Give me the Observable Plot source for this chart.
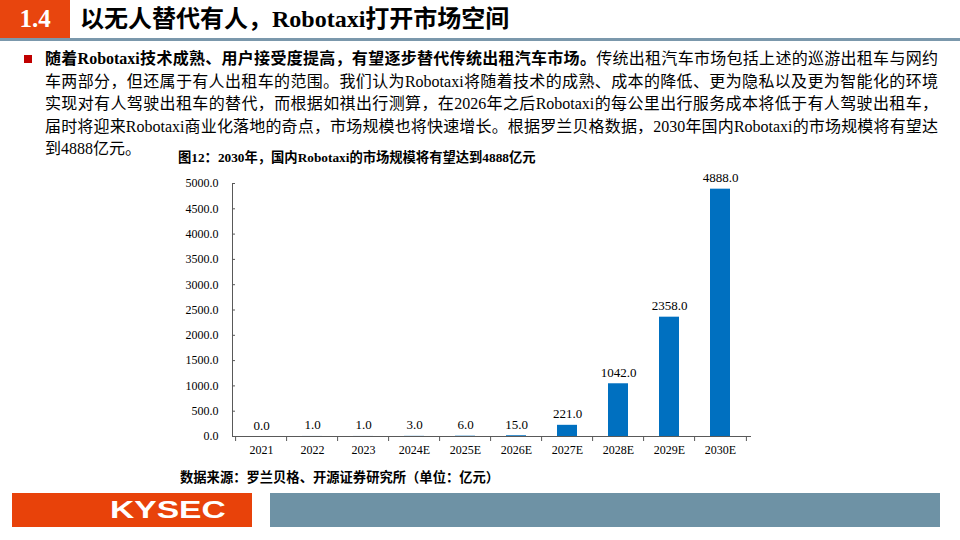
<!DOCTYPE html>
<html>
<head>
<meta charset="utf-8">
<script src="https://cdn.jsdelivr.net/npm/d3@7"></script>
<script src="https://cdn.jsdelivr.net/npm/@observablehq/plot@0.6"></script>
<style>
  html, body { margin: 0; padding: 0; background: #fff; }
  body { width: 960px; height: 540px; position: relative; overflow: hidden;
         font-family: "Liberation Serif", "Noto Sans CJK SC", serif; color: #000; }
  .abs { position: absolute; }
  #secbox { left: 0; top: 0; width: 70px; height: 38px; background: #E8450E; color: #fff;
            font: bold 25px "Liberation Serif", serif; line-height: 38px; text-align: center; }
  #title { left: 80px; top: 0; height: 38px; line-height: 38px; font-weight: bold; font-size: 24px; }
  #hline { left: 0; top: 38px; width: 960px; height: 3px; background: #7B98AC; }
  #bullet { left: 24px; top: 55px; width: 8px; height: 8px; background: #C00000; }
  #para { left: 45px; top: 48px; width: 893px; font-size: 16px; line-height: 22.5px; }
  #para .j { text-align: justify; text-align-last: justify; white-space: nowrap; }
  #cap { left: 178px; top: 150px; font-size: 13.3px; font-weight: bold; line-height: 16px; }
  #src { left: 180px; top: 470px; font-size: 13.3px; font-weight: bold; line-height: 16px; }
  #chart { left: 160px; top: 170px; }
  #fl { left: 12px; top: 493px; width: 240px; height: 34px; background: #E8420A; color: #fff;
        font: bold 24px "Liberation Sans", Arial, sans-serif; line-height: 34px; }
  #fl span { position: absolute; left: 98px; top: 0; transform: scaleX(1.4); transform-origin: left center; }
  #fr { left: 270px; top: 493px; width: 670px; height: 34px; background: #6E92A5; }
</style>
</head>
<body>
<div id="secbox" class="abs">1.4</div>
<div id="title" class="abs">以无人替代有人，Robotaxi打开市场空间</div>
<div id="hline" class="abs"></div>
<div id="bullet" class="abs"></div>
<div id="para" class="abs">
  <div class="j"><b>随着Robotaxi技术成熟、用户接受度提高，有望逐步替代传统出租汽车市场。</b>传统出租汽车市场包括上述的巡游出租车与网约</div>
  <div class="j">车两部分，但还属于有人出租车的范围。我们认为Robotaxi将随着技术的成熟、成本的降低、更为隐私以及更为智能化的环境</div>
  <div class="j">实现对有人驾驶出租车的替代，而根据如祺出行测算，在2026年之后Robotaxi的每公里出行服务成本将低于有人驾驶出租车，</div>
  <div class="j">届时将迎来Robotaxi商业化落地的奇点，市场规模也将快速增长。根据罗兰贝格数据，2030年国内Robotaxi的市场规模将有望达</div>
  <div>到4888亿元。</div>
</div>
<div id="cap" class="abs">图12：2030年，国内Robotaxi的市场规模将有望达到4888亿元</div>
<div id="chart" class="abs"></div>
<div id="src" class="abs">数据来源：罗兰贝格、开源证券研究所（单位：亿元）</div>
<div id="fl" class="abs"><span>KYSEC</span></div>
<div id="fr" class="abs"></div>
<script>
const years = ["2021", "2022", "2023", "2024E", "2025E", "2026E", "2027E", "2028E", "2029E", "2030E"];
const marketSize = [0, 1, 1, 3, 6, 15, 221, 1042, 2358, 4888];
const yTicks = [0, 500, 1000, 1500, 2000, 2500, 3000, 3500, 4000, 4500, 5000];

const data = years.map((year, i) => ({year, value: marketSize[i]}));

const W = 620, H = 300, ML = 72, MR = 30, MT = 13, MB = 34;
const step = (W - ML - MR) / years.length;
const axisColor = "#595959";
const fmt = d3.format(".1f");

const chart = Plot.plot({
  width: W, height: H,
  marginLeft: ML, marginRight: MR, marginTop: MT, marginBottom: MB,
  style: {fontFamily: "Liberation Serif, serif", fontSize: "12px", color: "#000", background: "transparent", overflow: "visible"},
  x: {type: "band", domain: years, paddingInner: 0.6, paddingOuter: 0.3, label: null},
  y: {domain: [0, 5000], label: null},
  marks: [
    Plot.barY(data, {x: "year", y: "value", fill: "#0070C0"}),
    Plot.text(data, {x: "year", y: "value", text: d => fmt(d.value), dy: -7, lineAnchor: "bottom", fontSize: 13, fill: "#000"}),
    Plot.frame({anchor: "left", stroke: axisColor}),
    Plot.frame({anchor: "bottom", stroke: axisColor}),
    Plot.axisY({ticks: yTicks, tickSize: 0, tickPadding: 14, tickFormat: fmt, label: null, fill: "#000"}),
    Plot.axisY({ticks: yTicks, tickSize: 3, dx: 3, tickFormat: () => "", label: null, stroke: axisColor}),
    Plot.axisX({tickSize: 0, tickPadding: 9, label: null, fill: "#000"}),
    Plot.axisX({tickSize: 5, dx: -step / 2, tickFormat: () => "", label: null, stroke: axisColor}),
    Plot.axisX({ticks: [years[years.length - 1]], tickSize: 5, dx: step / 2, tickFormat: () => "", label: null, stroke: axisColor})
  ]
});
document.getElementById("chart").appendChild(chart);
</script>
</body>
</html>
